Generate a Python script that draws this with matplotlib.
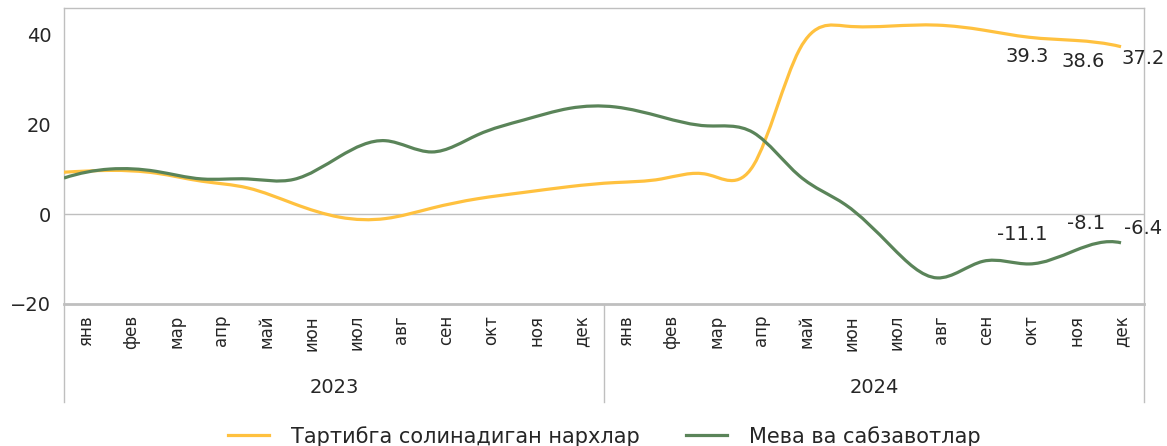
import numpy as np
import matplotlib
matplotlib.use("Agg")
import matplotlib.pyplot as plt
from matplotlib.path import Path
from matplotlib.patches import PathPatch
from matplotlib.lines import Line2D

# ---- data -------------------------------------------------------------
months = ['янв', 'фев', 'мар', 'апр', 'май', 'июн',
          'июл', 'авг', 'сен', 'окт', 'ноя', 'дек']
years = ['2023', '2024']

regulated = [9.3, 9.7, 9.1, 7.3, 5.8, 2.3, -0.7, -1.0, 1.3, 3.4, 4.8, 6.1,
             7.0, 7.8, 8.8, 10.8, 36.5, 41.8, 41.8, 42.0, 40.9, 39.3, 38.6, 37.2]
fruit_veg = [8.0, 10.0, 9.5, 7.8, 7.8, 7.7, 12.8, 16.3, 13.8, 17.6, 20.9, 23.5,
             23.8, 21.6, 19.6, 18.1, 8.5, 2.1, -7.2, -14.2, -10.5, -11.1, -8.1, -6.4]

series_names = ['Тартибга солинадиган нархлар', 'Мева ва сабзавотлар']
colors = ['#FFC13F', '#5A8459']

# last three points get value labels (offsets in pixels)
label_idx = [21, 22, 23]
reg_offsets = [(-2, -19), (8, -21), (22, -12)]
fv_offsets = [(-7, 29), (11, 27), (22, 14)]


def smooth_path(x, y):
    """cubic spline (not-a-knot) through the points, drawn as bezier segments"""
    x = np.asarray(x, float)
    y = np.asarray(y, float)
    n = len(y)
    h = x[1] - x[0]
    d = np.diff(y)
    A = np.zeros((n, n))
    b = np.zeros(n)
    A[0, 0], A[0, 2] = 1, -1
    b[0] = 2 * (d[0] - d[1]) / h
    for i in range(1, n - 1):
        A[i, i - 1], A[i, i], A[i, i + 1] = 1, 4, 1
        b[i] = 3 * (y[i + 1] - y[i - 1]) / h
    A[-1, -1], A[-1, -3] = 1, -1
    b[-1] = 2 * (d[-1] - d[-2]) / h
    m = np.linalg.solve(A, b)

    verts = [(x[0], y[0])]
    codes = [Path.MOVETO]
    for i in range(n - 1):
        verts += [(x[i] + h / 3, y[i] + m[i] * h / 3),
                  (x[i + 1] - h / 3, y[i + 1] - m[i + 1] * h / 3),
                  (x[i + 1], y[i + 1])]
        codes += [Path.CURVE4] * 3
    return Path(verts, codes)


# ---- figure -----------------------------------------------------------
plt.rcParams['font.family'] = ['DejaVu Sans']
fig = plt.figure(figsize=(11.67, 4.46), dpi=100)
ax = fig.add_axes([0.0548, 0.3184, 0.9255, 0.6636])

grey = '#BFBFBF'
txt = '#262626'
n = len(regulated)
x = np.arange(n)

ax.axhline(0, color=grey, lw=1, zorder=1)
for vals, col in zip([regulated, fruit_veg], colors):
    ax.add_patch(PathPatch(smooth_path(x, vals), fill=False, ec=col,
                           lw=2.3, capstyle='butt', zorder=3))

ax.set_xlim(0, n - 0.5)
ax.set_ylim(-20, 45.8)
ax.set_yticks([-20, 0, 20, 40])
ax.set_xticks([])
ax.tick_params(axis='y', length=0, labelsize=14, labelcolor=txt, pad=9)
for side in ['left', 'right', 'top']:
    ax.spines[side].set_color(grey)
    ax.spines[side].set_linewidth(1)
ax.spines['bottom'].set_color(grey)
ax.spines['bottom'].set_linewidth(2)

# value labels
for i, (dx, dy) in zip(label_idx, reg_offsets):
    ax.annotate(f'{regulated[i]:.1f}', (x[i], regulated[i]), xytext=(dx, dy),
                textcoords='offset pixels', ha='center', va='center',
                fontsize=14, color=txt, annotation_clip=False)
for i, (dx, dy) in zip(label_idx, fv_offsets):
    ax.annotate(f'{fruit_veg[i]:.1f}', (x[i], fruit_veg[i]), xytext=(dx, dy),
                textcoords='offset pixels', ha='center', va='center',
                fontsize=14, color=txt, annotation_clip=False)

# two level category axis
cats = [m for _ in years for m in months]
ncat = len(cats)
for i, m in enumerate(cats):
    ax.annotate(m, ((i + 0.5) / ncat, 0), xycoords='axes fraction',
                xytext=(0, -11), textcoords='offset pixels', rotation=90,
                ha='center', va='top', fontsize=12, color=txt)
for j, yr in enumerate(years):
    ax.annotate(yr, ((j + 0.5) / len(years), 0), xycoords='axes fraction',
                xytext=(0, -84), textcoords='offset pixels',
                ha='center', va='center', fontsize=14, color=txt)
for j in range(len(years) + 1):
    ax.add_line(Line2D([j / len(years)] * 2, [0, -0.33],
                       transform=ax.transAxes, color=grey, lw=1, clip_on=False))

handles = [Line2D([], [], color=c, lw=2.3) for c in colors]
fig.legend(handles, series_names, loc='center', bbox_to_anchor=(0.5177, 0.022),
           ncol=2, frameon=False, fontsize=15, handlelength=2.0,
           handletextpad=1.05, columnspacing=2.2, labelcolor=txt)

fig.savefig('out.png', dpi=100)
